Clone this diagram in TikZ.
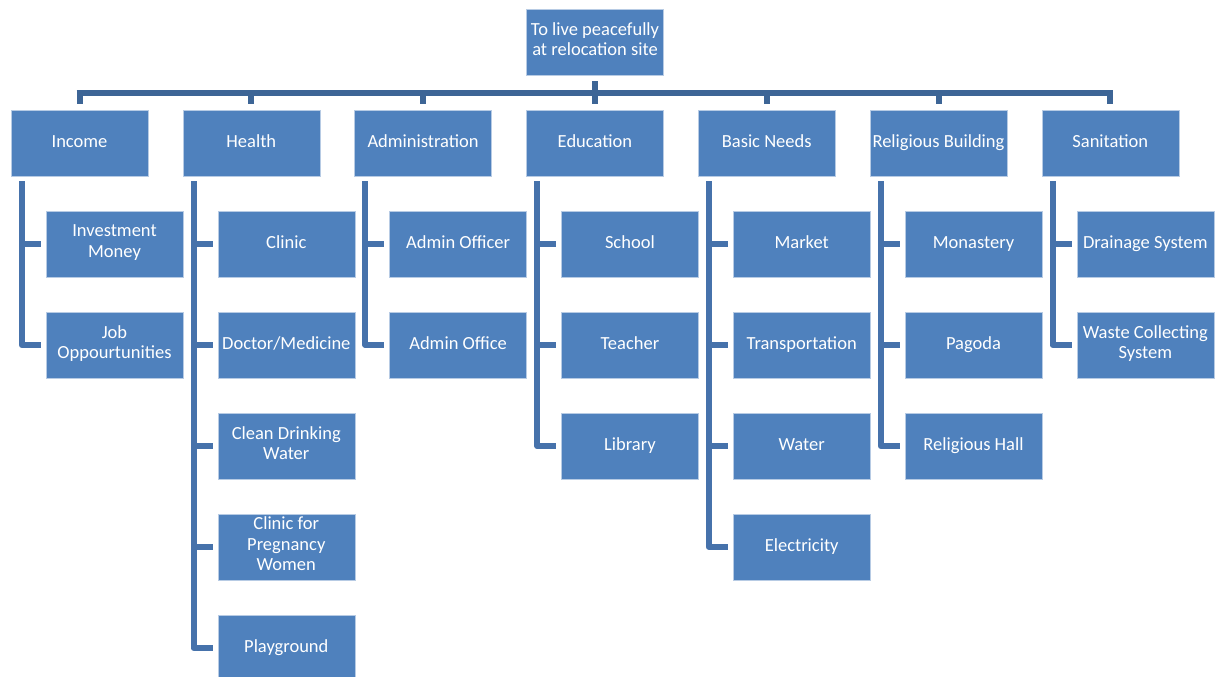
\documentclass[tikz,border=0pt]{standalone}
\usepackage{fontspec}
\setmainfont{Carlito}
\usetikzlibrary{calc}
\definecolor{boxfill}{HTML}{4F81BD}
\definecolor{boxedge}{HTML}{B7CBE4}
\definecolor{linktop}{HTML}{3D6596}
\definecolor{linkdown}{HTML}{4672AB}
\tikzset{
  box/.style={rectangle, fill=boxfill, draw=boxedge, line width=0.6pt,
    minimum width=137pt, minimum height=66pt, inner sep=0pt,
    text=white, align=center, font=\fontsize{18.5}{20.5}\selectfont,
    execute at begin node=\strut, execute at end node=\strut},
  toplink/.style={draw=linktop, line width=6pt},
  sublink/.style={draw=linkdown, line width=6pt, line join=round}
}
\begin{document}
\begin{tikzpicture}[x=1pt,y=-1pt]
\useasboundingbox (0,0) rectangle (1215,677);

% goal
\node[box] (root) at (595,42) {To live peacefully\\at relocation site};

% main categories
\node[box] (inc) at (79.5,143) {Income};
\node[box] (hea) at (251.3,143) {Health};
\node[box] (adm) at (423.1,143) {Administration};
\node[box] (edu) at (594.9,143) {Education};
\node[box] (bas) at (766.7,143) {Basic Needs};
\node[box] (rel) at (938.5,143) {Religious Building};
\node[box] (san) at (1110.3,143) {Sanitation};

% Income
\node[box] (inc1) at (114.5,244) {Investment\\Money};
\node[box] (inc2) at (114.5,345) {Job\\Oppourtunities};
% Health
\node[box] (hea1) at (286.3,244) {Clinic};
\node[box] (hea2) at (286.3,345) {Doctor/Medicine};
\node[box] (hea3) at (286.3,446) {Clean Drinking\\Water};
\node[box] (hea4) at (286.3,547) {Clinic for\\Pregnancy\\Women};
\node[box] (hea5) at (286.3,648) {Playground};
% Administration
\node[box] (adm1) at (458.1,244) {Admin Officer};
\node[box] (adm2) at (458.1,345) {Admin Office};
% Education
\node[box] (edu1) at (629.9,244) {School};
\node[box] (edu2) at (629.9,345) {Teacher};
\node[box] (edu3) at (629.9,446) {Library};
% Basic Needs
\node[box] (bas1) at (801.7,244) {Market};
\node[box] (bas2) at (801.7,345) {Transportation};
\node[box] (bas3) at (801.7,446) {Water};
\node[box] (bas4) at (801.7,547) {Electricity};
% Religious Building
\node[box] (rel1) at (973.5,244) {Monastery};
\node[box] (rel2) at (973.5,345) {Pagoda};
\node[box] (rel3) at (973.5,446) {Religious Hall};
% Sanitation
\node[box] (san1) at (1145.3,244) {Drainage System};
\node[box] (san2) at (1145.3,345) {Waste Collecting\\System};

% top level bus
\coordinate (busL) at (79.5,93);
\coordinate (busR) at (1110.3,93);
\draw[toplink] ([yshift=-6pt]root.south) -- (root.south |- busL);
\draw[toplink] ([xshift=-3pt]busL) -- ([xshift=3pt]busR);
\foreach \p in {inc,hea,adm,edu,bas,rel,san}
  \draw[toplink] (\p.north |- busL) -- ([yshift=6pt]\p.north);

% category trunks and branches
\foreach \p/\last/\kids in {inc/inc2/{inc1,inc2},
                           hea/hea5/{hea1,hea2,hea3,hea4,hea5},
                           adm/adm2/{adm1,adm2},
                           edu/edu3/{edu1,edu2,edu3},
                           bas/bas4/{bas1,bas2,bas3,bas4},
                           rel/rel3/{rel1,rel2,rel3},
                           san/san2/{san1,san2}} {
  \coordinate (\p-trunk) at ([xshift=11pt,yshift=-5pt]\p.south west);
  \draw[sublink] (\p-trunk) |- ([xshift=-5pt]\last.west);
  \foreach \k in \kids
    \draw[sublink] (\p-trunk |- \k.west) -- ([xshift=-5pt]\k.west);
}
\end{tikzpicture}
\end{document}
